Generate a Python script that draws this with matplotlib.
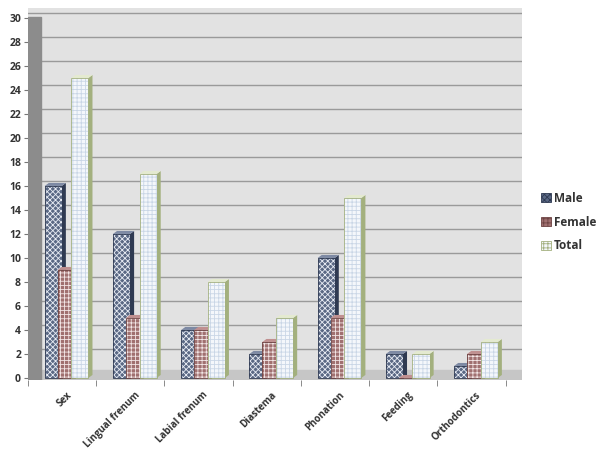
import matplotlib.pyplot as plt
import numpy as np
from matplotlib.patches import Polygon, Patch, Rectangle

plt.rcParams['font.family'] = ['Open Sans', 'DejaVu Sans']
plt.rcParams['hatch.linewidth'] = 0.6

categories = ['Sex', 'Lingual frenum', 'Labial frenum', 'Diastema',
              'Phonation', 'Feeding', 'Orthodontics']
male = [16, 12, 4, 2, 10, 2, 1]
female = [9, 5, 4, 3, 5, 0, 2]
total = [25, 17, 8, 5, 15, 2, 3]
series_names = ['Male', 'Female', 'Total']

# face, hatch colour, side, top, hatch
styles = [
    ('#5a6884', '#e8ecf4', '#2f3a52', '#7e8aa4', 'xxxxxx'),
    ('#a07070', '#f2e6e6', '#6e4444', '#c09090', '++++'),
    ('#f4f7fb', '#c9d6e6', '#a3b07e', '#e4ead0', '++++'),
]

fig = plt.figure(figsize=(6, 4.5), dpi=100)
ax = fig.add_axes([28 / 600, 1 - 380 / 450, (522 - 28) / 600, (380 - 8) / 450])
ax.set_facecolor('#e2e2e2')
ax.set_xlim(-0.5, 6.74)
ax.set_ylim(-0.17, 30.83)

# back wall grid
for v in range(0, 31, 2):
    ax.axhline(v + 0.4, color='#9a9a9a', lw=1.0, zorder=1)
# floor
ax.axhspan(-0.17, 0.7, color='#c6c6c6', zorder=1.5)
# left wall
ax.add_patch(Rectangle((0, 0), 0.027, 0.975, transform=ax.transAxes,
                       color='#8c8c8c', zorder=1.6))

x = np.arange(len(categories))
w = 0.25
offs = [-0.19, 0.0, 0.2]
dx, dy = 0.06, 0.25
for vals, off, (fc, hc, sc, tc, hatch) in zip([male, female, total], offs, styles):
    for xi, v in zip(x, vals):
        x0 = xi + 0.06 + off - w / 2
        x1 = x0 + w
        ax.add_patch(Polygon([(x1, 0), (x1 + dx, dy), (x1 + dx, v + dy), (x1, v)],
                             closed=True, fc=sc, ec='none', zorder=3))
        ax.add_patch(Polygon([(x0, v), (x0 + dx, v + dy), (x1 + dx, v + dy), (x1, v)],
                             closed=True, fc=tc, ec='none', zorder=3))
        ax.bar(x0, v, width=w, align='edge', color=fc, edgecolor=hc,
               hatch=hatch, lw=0, zorder=3)
        ax.bar(x0, v, width=w, align='edge', fill=False, edgecolor=sc,
               lw=0.6, zorder=3)

for s in ax.spines.values():
    s.set_visible(False)

ax.set_yticks(range(0, 31, 2))
ax.set_yticklabels([str(v) for v in range(0, 31, 2)], fontsize=7.5,
                   fontweight='bold', color='#333333')
ax.tick_params(axis='y', length=3, color='#777777', pad=2)
ax.set_xticks(x + 0.06)
ax.set_xticklabels(categories, rotation=45, ha='right', rotation_mode='anchor',
                   fontsize=7, fontweight='bold', color='#333333')
ax.tick_params(axis='x', length=0, pad=7)
ax.set_xticks(np.arange(-0.5, 7, 1), minor=True)
ax.tick_params(axis='x', which='minor', length=4, color='#777777')

handles = [Patch(facecolor=st[0], edgecolor=st[2], hatch=st[4], lw=0.6) for st in styles]
leg = fig.legend(handles, series_names, loc='center left',
                 bbox_to_anchor=(533 / 600, 1 - 222 / 450), frameon=False,
                 prop={'size': 8.5, 'weight': 'bold'}, handlelength=0.8,
                 handleheight=0.8, handletextpad=0.25, labelspacing=0.9,
                 borderpad=0.2)
for t in leg.get_texts():
    t.set_color('#333333')

fig.savefig('out.png', dpi=100)
